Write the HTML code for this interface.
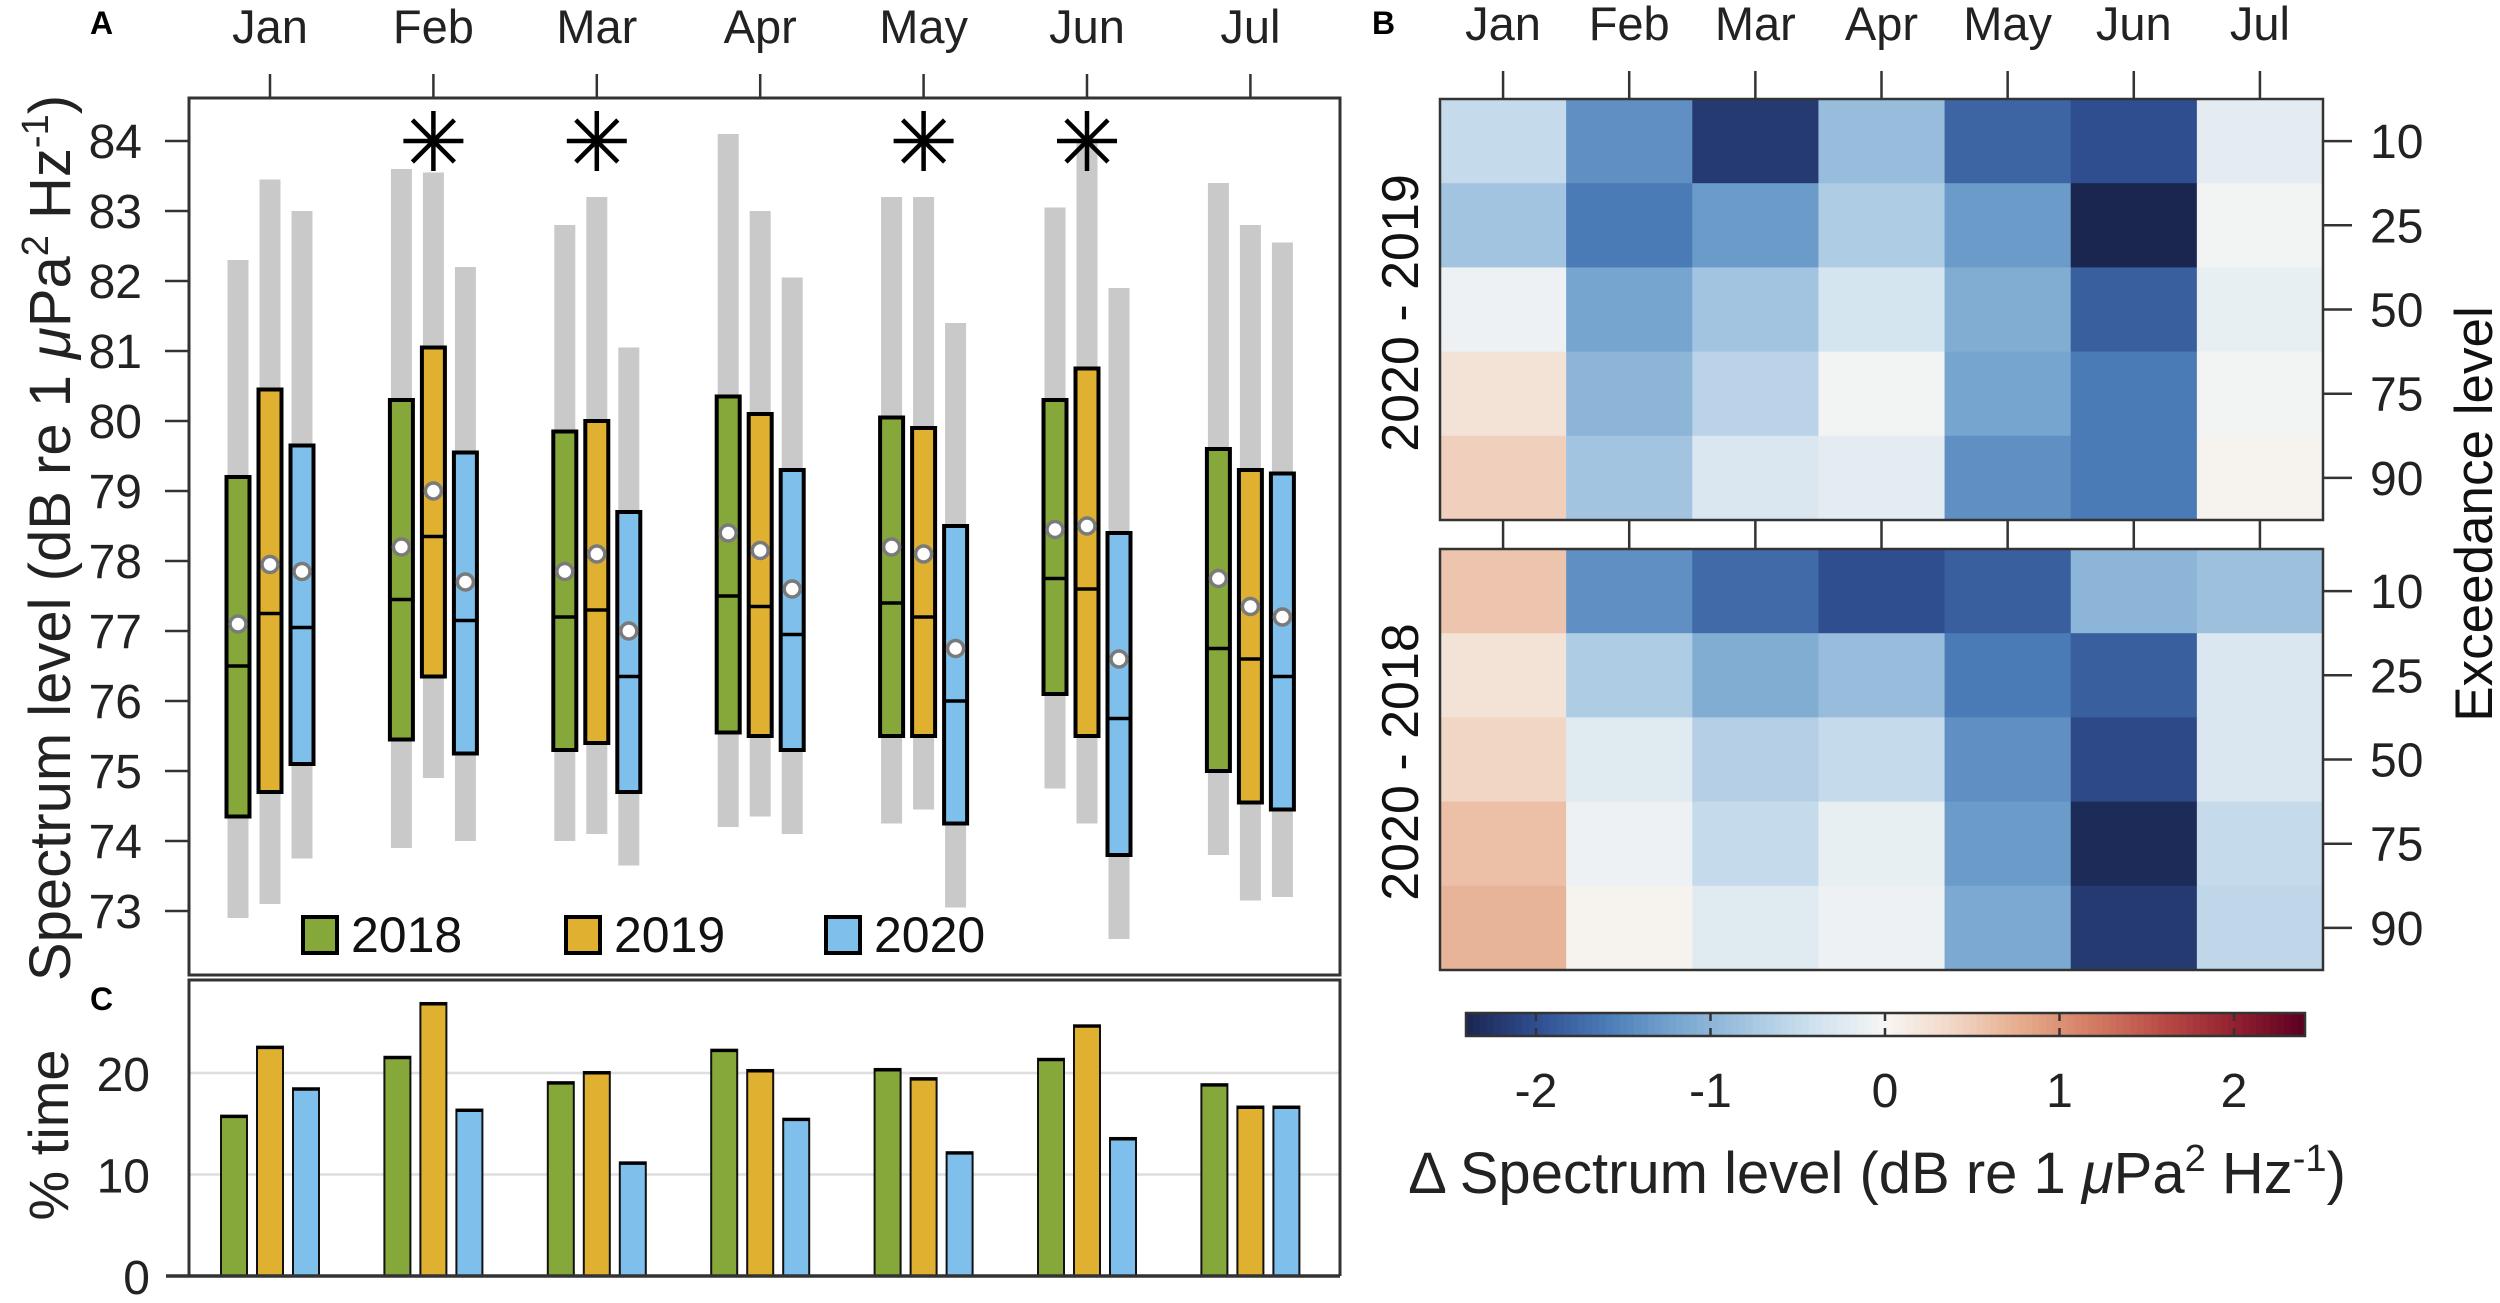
<!DOCTYPE html>
<html><head><meta charset="utf-8"><style>
html,body{margin:0;padding:0;background:#fff}
svg{display:block;font-family:"Liberation Sans",sans-serif}
</style></head><body>
<svg id="fig" width="2500" height="1303" viewBox="0 0 2500 1303" xmlns="http://www.w3.org/2000/svg">
<g id="pA"></g>
<g id="pC"></g>
<g id="pB"></g>
</svg>
<script>
// ---------- data ----------
const months = ["Jan","Feb","Mar","Apr","May","Jun","Jul"];
const years = ["2018","2019","2020"];
const yearColors = ["#86a83a","#e0b030","#7fbfeb"];
// Panel A: [grayLow, grayHigh, boxLow, boxHigh, median, mean] per month per year
const stats2018 = [[72.9,82.3,74.35,79.2,76.5,77.1],[73.9,83.6,75.45,80.3,77.45,78.2],[74.0,82.8,75.3,79.85,77.2,77.85],[74.2,84.1,75.55,80.35,77.5,78.4],[74.25,83.2,75.5,80.05,77.4,78.2],[74.75,83.05,76.1,80.3,77.75,78.45],[73.8,83.4,75.0,79.6,76.75,77.75]];
const stats2019 = [[73.1,83.45,74.7,80.45,77.25,77.95],[74.9,83.55,76.35,81.05,78.35,79.0],[74.1,83.2,75.4,80.0,77.3,78.1],[74.35,83.0,75.5,80.1,77.35,78.15],[74.45,83.2,75.5,79.9,77.2,78.1],[74.25,84.0,75.5,80.75,77.6,78.5],[73.15,82.8,74.55,79.3,76.6,77.35]];
const stats2020 = [[73.75,83.0,75.1,79.65,77.05,77.85],[74.0,82.2,75.25,79.55,77.15,77.7],[73.65,81.05,74.7,78.7,76.35,77.0],[74.1,82.05,75.3,79.3,76.95,77.6],[73.05,81.4,74.25,78.5,76.0,76.75],[72.6,81.9,73.8,78.4,75.75,76.6],[73.2,82.55,74.45,79.25,76.35,77.2]];
const starMonths = ["Feb","Mar","May","Jun"];
const starValue = 84;
const yTicksA = [73,74,75,76,77,78,79,80,81,82,83,84];
// Panel C
const pct2018 = [15.8,21.6,19.1,22.3,20.4,21.4,18.9];
const pct2019 = [22.6,26.9,20.1,20.3,19.5,24.7,16.7];
const pct2020 = [18.5,16.4,11.2,15.5,12.2,13.6,16.7];
const yTicksC = [0,10,20];
// Panel B: rows = exceedance levels, columns = months
const exceedance = ["10","25","50","75","90"];
const diff2019 = [
 [-0.5,-1.4,-2.2,-0.9,-1.8,-2.0,-0.2],
 [-0.8,-1.6,-1.3,-0.7,-1.3,-2.4,-0.05],
 [-0.1,-1.2,-0.8,-0.35,-1.1,-1.85,-0.15],
 [0.25,-1.0,-0.6,-0.05,-1.2,-1.6,-0.05],
 [0.45,-0.8,-0.3,-0.2,-1.4,-1.6,0.05]];
const diff2018 = [
 [0.55,-1.4,-1.75,-2.0,-1.85,-1.0,-0.85],
 [0.25,-0.7,-1.1,-0.9,-1.6,-1.85,-0.3],
 [0.4,-0.25,-0.65,-0.5,-1.4,-2.05,-0.3],
 [0.6,-0.1,-0.5,-0.15,-1.3,-2.35,-0.5],
 [0.7,0.05,-0.25,-0.1,-1.15,-2.2,-0.55]];
const cbTicks = [-2,-1,0,1,2];

// ---------- helpers ----------
const NS="http://www.w3.org/2000/svg";
function mk(parent,tag,attrs,text){const e=document.createElementNS(NS,tag);for(const k in attrs)e.setAttribute(k,attrs[k]);if(text!==undefined)e.textContent=text;parent.appendChild(e);return e;}
const pA=document.getElementById('pA'),pB=document.getElementById('pB'),pC=document.getElementById('pC');

// ---------- Panel A ----------
const AX0=189,AX1=1340,AY0=98,AY1=975;
const monthX=i=>270+i*163.4;
const yA=v=>141+(84-v)*70;
const offs=[-32,0,32];
let t;
t=mk(pA,'text',{x:90,y:34,'font-size':32,'font-weight':'bold'},'A');

const allStats=[stats2018,stats2019,stats2020];
months.forEach((m,i)=>{
  let tk=mk(pA,'line',{x1:monthX(i),x2:monthX(i),y1:74,y2:AY0,stroke:'#333','stroke-width':2.5});
  
  let lb=mk(pA,'text',{x:monthX(i),y:43,'font-size':47,'text-anchor':'middle',fill:'#222'},m);
  
  allStats.forEach((st,k)=>{
    const s=st[i],cx=monthX(i)+offs[k];
    let g=mk(pA,'rect',{x:cx-10.5,y:yA(s[1]),width:21,height:yA(s[0])-yA(s[1]),fill:'#c9c9c9'});
    
  });
});
months.forEach((m,i)=>{
  allStats.forEach((st,k)=>{
    const s=st[i],cx=monthX(i)+offs[k];
    let b=mk(pA,'rect',{x:cx-11.5,y:yA(s[3]),width:23,height:yA(s[2])-yA(s[3]),fill:yearColors[k],stroke:'#000','stroke-width':4});
    
    let md=mk(pA,'line',{x1:cx-11.5,x2:cx+11.5,y1:yA(s[4]),y2:yA(s[4]),stroke:'#000','stroke-width':3.5});
    
    let mn=mk(pA,'circle',{cx:cx,cy:yA(s[5]),r:8,fill:'#fff',stroke:'#7a7a7a','stroke-width':3.5});
    
  });
});
starMonths.forEach(m=>{
  const i=months.indexOf(m),cx=monthX(i),cy=yA(starValue);
  const g=mk(pA,'g',{stroke:'#000','stroke-width':4.5});
  
  
  mk(g,'line',{x1:cx-30,x2:cx+30,y1:cy,y2:cy});
  mk(g,'line',{x1:cx,x2:cx,y1:cy-30,y2:cy+30});
  mk(g,'line',{x1:cx-21,x2:cx+21,y1:cy-21,y2:cy+21});
  mk(g,'line',{x1:cx-21,x2:cx+21,y1:cy+21,y2:cy-21});
});
let fa=mk(pA,'rect',{x:AX0,y:AY0,width:AX1-AX0,height:AY1-AY0,fill:'none',stroke:'#333','stroke-width':3});

yTicksA.forEach(v=>{
  let tk=mk(pA,'line',{x1:165,x2:AX0,y1:yA(v),y2:yA(v),stroke:'#333','stroke-width':2.5});
  
  let l=mk(pA,'text',{x:142,y:yA(v)+17,'font-size':48,'text-anchor':'end',fill:'#222'},String(v));
  
});
t=mk(pA,'text',{transform:'translate(70,538) rotate(-90)','font-size':58,'text-anchor':'middle',fill:'#222'});

t.innerHTML='Spectrum level (dB re 1 <tspan font-style="italic">μ</tspan>Pa<tspan dy="-22" font-size="38">2</tspan><tspan dy="22"> Hz</tspan><tspan dy="-22" font-size="38">-1</tspan><tspan dy="22">)</tspan>';
const legX=[303,566,826];
years.forEach((y,k)=>{
  let s=mk(pA,'rect',{x:legX[k],y:917,width:34,height:36,fill:yearColors[k],stroke:'#000','stroke-width':4});
  
  let l=mk(pA,'text',{x:legX[k]+48,y:952,'font-size':50,fill:'#111'},y);
  
});

// ---------- Panel C ----------
const CY0=980,CY1=1276;
const yC=v=>1276-v*10.15;
t=mk(pC,'text',{x:90,y:1010,'font-size':32,'font-weight':'bold'},'C');

[10,20].forEach(v=>{let g=mk(pC,'line',{x1:AX0,x2:AX1,y1:yC(v),y2:yC(v),stroke:'#dedede','stroke-width':2.5});});
const pcts=[pct2018,pct2019,pct2020];
months.forEach((m,i)=>{
  pcts.forEach((arr,k)=>{
    const cx=monthX(i)+[-36,0,36][k];
    let b=mk(pC,'rect',{x:cx-13,y:yC(arr[i]),width:26,height:yC(0)-yC(arr[i]),fill:yearColors[k],stroke:'#111','stroke-width':2});
    
    let tp=mk(pC,'line',{x1:cx-13,x2:cx+13,y1:yC(arr[i])+1,y2:yC(arr[i])+1,stroke:'#000','stroke-width':3});
    
  });
});
let fc=mk(pC,'path',{d:`M${AX0} ${CY1} V${CY0} H${AX1} V${CY1}`,fill:'none',stroke:'#333','stroke-width':3});

let ax=mk(pC,'line',{x1:166,x2:AX1,y1:CY1,y2:CY1,stroke:'#333','stroke-width':3.5});

yTicksC.forEach(v=>{
  let l=mk(pC,'text',{x:150,y:yC(v)+18,'font-size':48,'text-anchor':'end',fill:'#222'},String(v));
  
});
t=mk(pC,'text',{transform:'translate(68,1135) rotate(-90)','font-size':56,'text-anchor':'middle',fill:'#222'},'% time');


// ---------- Panel B ----------
const BX0=1440,BX1=2323,cw=(BX1-BX0)/7,rh=84.2;
const panelsY=[99,549];
const stops=[[-2.4,"#1b2650"],[-2.0,"#2f4e90"],[-1.6,"#4a7bb7"],[-1.2,"#76a5cf"],[-0.8,"#a3c4e0"],[-0.4,"#d0e2ef"],[0,"#f7f6f4"],[0.4,"#f1d6c4"],[0.8,"#e5a98a"],[1.2,"#d27a62"],[1.6,"#b84a45"],[2.0,"#922030"],[2.4,"#5a0020"]];
function hx(h){return [1,3,5].map(i=>parseInt(h.substr(i,2),16));}
function cmap(v){v=Math.max(-2.4,Math.min(2.4,v));for(let i=0;i<stops.length-1;i++){if(v<=stops[i+1][0]){const f=(v-stops[i][0])/(stops[i+1][0]-stops[i][0]);const a=hx(stops[i][1]),b=hx(stops[i+1][1]);return 'rgb('+a.map((c,j)=>Math.round(c+(b[j]-c)*f)).join(',')+')';}}return stops[stops.length-1][1];}
t=mk(pB,'text',{x:1372,y:34,'font-size':32,'font-weight':'bold'},'B');

const rowLabelY=[313,762];
[diff2019,diff2018].forEach((mat,p)=>{
  const top=panelsY[p];
  mat.forEach((row,r)=>row.forEach((v,c)=>{
    let cell=mk(pB,'rect',{x:BX0+c*cw,y:top+r*rh,width:cw+0.6,height:rh+0.6,fill:cmap(v)});
    
    
  }));
  let fr=mk(pB,'rect',{x:BX0,y:top,width:BX1-BX0,height:rh*5,fill:'none',stroke:'#333','stroke-width':2.5});
  
  exceedance.forEach((e,r)=>{
    const yy=top+(r+0.5)*rh;
    let tk=mk(pB,'line',{x1:BX1,x2:BX1+29,y1:yy,y2:yy,stroke:'#333','stroke-width':2.5});
    
    let l=mk(pB,'text',{x:2370,y:yy+17,'font-size':48,fill:'#222'},e);
    
  });
  months.forEach((m,c)=>{
    const xx=BX0+(c+0.5)*cw;
    let tk=mk(pB,'line',{x1:xx,x2:xx,y1:top-28,y2:top,stroke:'#333','stroke-width':2.5});
    
  });
  let rl=mk(pB,'text',{transform:`translate(1418,${rowLabelY[p]}) rotate(-90)`,'font-size':52,'text-anchor':'middle',fill:'#111'},p?'2020 - 2018':'2020 - 2019');
  
});
months.forEach((m,c)=>{
  let l=mk(pB,'text',{x:BX0+(c+0.5)*cw,y:40,'font-size':47,'text-anchor':'middle',fill:'#222'},m);
  
});
t=mk(pB,'text',{transform:'translate(2492,514) rotate(-90)','font-size':53,'text-anchor':'middle',fill:'#111'},'Exceedance level');

// colorbar
const CBX0=1466,CBX1=2305,CBY0=1013,CBY1=1036;
const xCB=v=>1885+v*174.5;
const nSeg=120;
for(let i=0;i<nSeg;i++){
  const v=-2.4+4.8*(i+0.5)/nSeg;
  let s=mk(pB,'rect',{x:CBX0+(CBX1-CBX0)*i/nSeg,y:CBY0,width:(CBX1-CBX0)/nSeg+0.8,height:CBY1-CBY0,fill:cmap(v)});
  
}
let cbf=mk(pB,'rect',{x:CBX0,y:CBY0,width:CBX1-CBX0,height:CBY1-CBY0,fill:'none',stroke:'#333','stroke-width':2.5});

cbTicks.forEach(v=>{
  let a=mk(pB,'line',{x1:xCB(v),x2:xCB(v),y1:CBY0,y2:CBY0+8,stroke:'#333','stroke-width':2.5});
  
  let b=mk(pB,'line',{x1:xCB(v),x2:xCB(v),y1:CBY1-8,y2:CBY1,stroke:'#333','stroke-width':2.5});
  
  let l=mk(pB,'text',{x:xCB(v),y:1107,'font-size':48,'text-anchor':'middle',fill:'#222'},String(v));
  
});
t=mk(pB,'text',{x:1877,y:1193,'font-size':58,'text-anchor':'middle',fill:'#222'});

t.innerHTML='Δ Spectrum level (dB re 1 <tspan font-style="italic">μ</tspan>Pa<tspan dy="-22" font-size="38">2</tspan><tspan dy="22"> Hz</tspan><tspan dy="-22" font-size="38">-1</tspan><tspan dy="22">)</tspan>';
</script>
</body></html>
